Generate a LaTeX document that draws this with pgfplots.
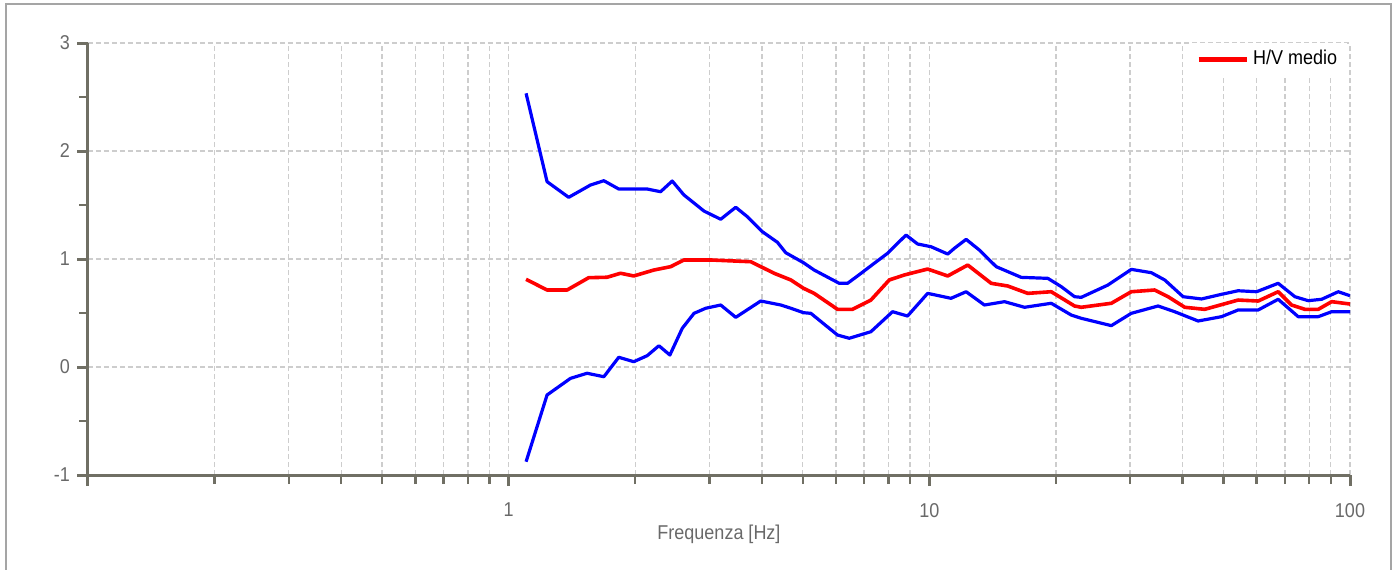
\documentclass[border=0pt]{standalone}
\usepackage{fontspec}
\setmainfont{Liberation Sans}[FakeStretch=0.9]
\usepackage{pgfplots}
\pgfplotsset{compat=1.18}
\definecolor{axgray}{RGB}{112,111,100}
\definecolor{gridgray}{RGB}{205,205,205}
\definecolor{lblgray}{RGB}{105,105,105}
\definecolor{framegray}{RGB}{165,165,165}
\definecolor{hvred}{RGB}{255,0,0}
\definecolor{hvblue}{RGB}{0,0,255}

\begin{document}
\begin{tikzpicture}
\begin{axis}[
  at={(0pt,0pt)}, anchor=south west,
  scale only axis, width=631pt, height=216pt,
  xmode=log, xmin=0.1, xmax=100, ymin=-1, ymax=3,
  axis lines=left,
  axis line style={-, draw=axgray, line width=1.5pt},
  xtick={0.1,1,10,100}, xticklabels={,1,10,100},
  ytick={-1,0,1,2,3}, yticklabels={-1,0,1,2,3},
  minor ytick={-0.5,0.5,1.5,2.5},
  tick align=outside,
  major tick length=5.5pt, minor tick length=4.5pt,
  major tick style={draw=axgray, line width=1.5pt},
  minor tick style={draw=axgray, line width=1.2pt},
  xmajorgrids=true, xminorgrids=true, ymajorgrids=true,
  major grid style={draw=gridgray, dash pattern=on 2.5pt off 1.5pt, line width=0.7pt},
  minor grid style={draw=gridgray, dash pattern=on 2.5pt off 1.5pt, line width=0.7pt},
  tick label style={font=\fontsize{10}{12}\selectfont, text=lblgray},
  xticklabel style={yshift=-5pt},
  xlabel={Frequenza [Hz]},
  xlabel style={at={(axis description cs:0.5,0)}, anchor=center, yshift=-29.5pt, font=\fontsize{10}{12}\selectfont, text=lblgray},
  legend style={at={(axis description cs:0.998,1)}, anchor=north east, draw=none, fill=white,
    font=\fontsize{10}{12}\selectfont, text=black, inner xsep=3pt, inner ysep=1.5pt},
  legend cell align=left,
  legend image code/.code={\draw[#1, line width=2.5pt] (0pt,0pt) -- (24pt,0pt);},
  line join=round,
]
\addplot[hvblue, line width=1.6pt, forget plot] coordinates {
(1.100,2.534) (1.234,1.716) (1.389,1.571) (1.565,1.685) (1.684,1.725)
(1.827,1.648) (2.135,1.648) (2.297,1.623) (2.448,1.722) (2.610,1.593)
(2.913,1.444) (3.192,1.368) (3.466,1.479) (3.693,1.392) (4.009,1.253)
(4.353,1.155) (4.558,1.058) (5.021,0.966) (5.323,0.898) (6.106,0.775)
(6.391,0.775) (6.751,0.843) (7.396,0.960) (7.957,1.053) (8.802,1.222)
(9.379,1.139) (10.09,1.114) (11.06,1.046) (11.47,1.099) (12.23,1.182)
(13.15,1.083) (14.42,0.929) (16.54,0.830) (19.13,0.821) (20.59,0.744)
(22.14,0.651) (22.97,0.645) (26.58,0.759) (30.21,0.904) (33.72,0.873)
(36.27,0.806) (40.11,0.651) (44.36,0.630) (49.50,0.673) (54.20,0.706)
(59.97,0.697) (67.50,0.775) (73.96,0.651) (79.57,0.614) (85.62,0.627)
(93.78,0.697) (100,0.660)
};
\addplot[hvblue, line width=1.6pt, forget plot] coordinates {
(1.100,-0.877) (1.234,-0.259) (1.403,-0.105) (1.536,-0.058) (1.684,-0.090)
(1.827,0.090) (1.984,0.049) (2.135,0.105) (2.276,0.197) (2.417,0.111)
(2.586,0.358) (2.758,0.497) (2.941,0.544) (3.192,0.574) (3.466,0.460)
(3.974,0.611) (4.437,0.574) (4.686,0.544) (5.021,0.503) (5.228,0.497)
(6.050,0.296) (6.451,0.266) (7.264,0.327) (8.177,0.512) (8.876,0.472)
(9.908,0.682) (11.26,0.636) (12.23,0.697) (13.52,0.574) (15.09,0.605)
(16.84,0.553) (19.49,0.590) (21.75,0.481) (22.97,0.451) (27.08,0.383)
(30.21,0.497) (34.97,0.565) (38.31,0.512) (43.55,0.426) (49.50,0.466)
(54.20,0.528) (60.50,0.528) (67.50,0.627) (75.32,0.466) (84.04,0.466)
(90.45,0.512) (100,0.512)
};
\addplot[hvred, line width=1.8pt] coordinates {
(1.100,0.812) (1.234,0.713) (1.377,0.713) (1.550,0.827) (1.714,0.831)
(1.845,0.868) (1.984,0.843) (2.214,0.898) (2.427,0.929) (2.610,0.991)
(3.022,0.991) (3.763,0.975) (4.276,0.868) (4.686,0.806) (5.021,0.729)
(5.323,0.682) (6.050,0.534) (6.568,0.534) (7.264,0.620) (8.032,0.806)
(8.718,0.852) (9.908,0.907) (11.06,0.843) (12.34,0.944) (14.03,0.775)
(15.36,0.750) (17.14,0.682) (19.49,0.697) (22.14,0.565) (22.97,0.553)
(27.08,0.590) (30.21,0.697) (34.34,0.713) (36.94,0.651) (40.48,0.553)
(45.15,0.534) (54.20,0.620) (60.50,0.611) (67.50,0.697) (72.62,0.574)
(78.15,0.534) (84.04,0.534) (90.45,0.605) (100,0.583)
};
\addlegendentry{H/V medio}
\end{axis}
\draw[framegray, line width=1pt] (-41pt,-48pt) -- (-41pt,235.5pt) -- (651.5pt,235.5pt) -- (651.5pt,-48pt);
\pgfresetboundingbox
\path[use as bounding box] (-44pt,-47pt) rectangle (653pt,237.5pt);
\end{tikzpicture}
\end{document}
